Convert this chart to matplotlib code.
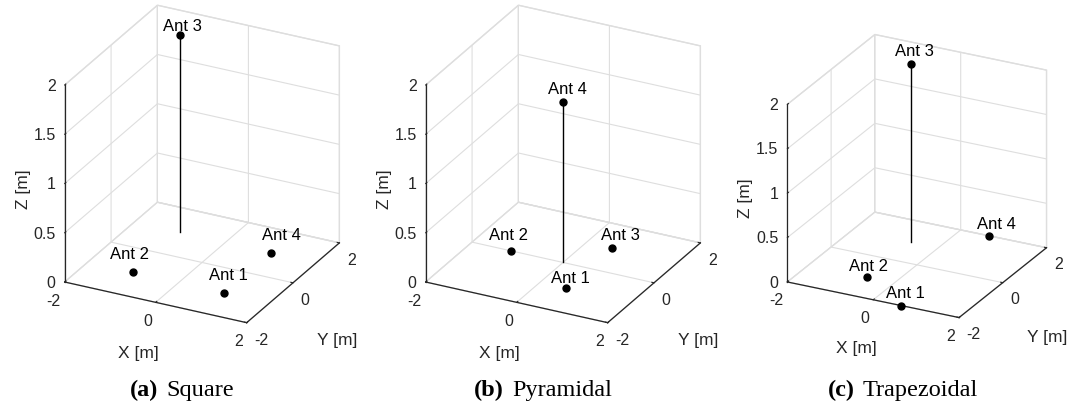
import numpy as np
import matplotlib
matplotlib.use('Agg')
import matplotlib.pyplot as plt
import matplotlib.transforms as mtransforms
from matplotlib.offsetbox import TextArea, HPacker, AnchoredOffsetbox

plt.rcParams['font.family'] = ['Liberation Sans', 'DejaVu Sans']
plt.rcParams['axes.unicode_minus'] = False
plt.rcParams['grid.color'] = '#dedede'
plt.rcParams['grid.linewidth'] = 0.8

# antenna layouts (x, y, z in metres)
ant_names = ['Ant 1', 'Ant 2', 'Ant 3', 'Ant 4']
square_x = [1, -1, -1, 1]
square_y = [-1, -1, 1, 1]
square_z = [0, 0, 2, 0]
pyramid_x = [0.577, -1.155, 0.577, 0]
pyramid_y = [-1, 0, 1, 0]
pyramid_z = [0, 0, 0, 1.633]
trapez_x = [0.65, -0.65, -0.65, 0.65]
trapez_y = [-2, -1, 1, 2]
trapez_z = [0, 0, 2, 0]

xy_ticks = [-2, 0, 2]
z_ticks = [0, 0.5, 1, 1.5, 2]
z_ticklabels = ['0', '0.5', '1', '1.5', '2']
captions = [('(a)', 'Square'), ('(b)', 'Pyramidal'), ('(c)', 'Trapezoidal')]

W, H = 1072, 407
fig = plt.figure(figsize=(W / 100, H / 100), dpi=100)

def px_rect(left, top, size):
    return [left / W, (H - top - size) / H, size / W, size / H]

panels = [
    dict(x=square_x, y=square_y, z=square_z, rect=px_rect(38.5, 9, 318.5),
         elev=26, aspect=(1.1387, 1.1387, 1.2224), cap_x=182,
         offs=[(4, 13), (-4, 13), (3, 4), (11, 13)]),
    dict(x=pyramid_x, y=pyramid_y, z=pyramid_z, rect=px_rect(399.5, 9, 318.5),
         elev=26, aspect=(1.1387, 1.1387, 1.2224), cap_x=543,
         offs=[(4, 5), (-2, 11), (8, 8), (4, 8)]),
    dict(x=trapez_x, y=trapez_y, z=trapez_z, rect=px_rect(762.7, 29.9, 300.4),
         elev=24, aspect=(1.139, 1.139, 1.1496), cap_x=903,
         offs=[(4, 8), (1, 6), (4, 8), (8, 7)]),
]

dark = '#262626'

for p, (tag, name) in zip(panels, captions):
    ax = fig.add_axes(p['rect'], projection='3d')
    ax.set_proj_type('ortho')
    ax.view_init(elev=p['elev'], azim=-63)
    asp = np.array(p['aspect'])
    ax.set_box_aspect(asp, zoom=np.linalg.norm(asp) / 1.8294640721620434)
    ax.patch.set_alpha(0)

    for x, y, z, lab, (dx, dy) in zip(p['x'], p['y'], p['z'], ant_names, p['offs']):
        if z > 0:
            ax.plot([x, x], [y, y], [0, z], color='k', lw=1.0)
        ax.plot([x], [y], [z], 'o', color='k', ms=5)
        t = ax.text(x, y, z, lab, ha='center', va='baseline', fontsize=12)
        t.set_transform(ax.transData + mtransforms.ScaledTranslation(
            dx / 100, dy / 100, fig.dpi_scale_trans))

    ax.set_xlim(-2, 2, view_margin=0)
    ax.set_ylim(-2, 2, view_margin=0)
    ax.set_zlim(0, 2, view_margin=0)
    ax.set_xticks(xy_ticks)
    ax.set_yticks(xy_ticks)
    ax.set_zticks(z_ticks)
    ax.set_zticklabels(z_ticklabels)

    for axis in (ax.xaxis, ax.yaxis, ax.zaxis):
        axis.set_pane_color((1, 1, 1, 1))
        axis.pane.set_edgecolor('#dedede')
        axis.line.set_color(dark)
        axis.line.set_linewidth(0.9)
        axis._axinfo['tick']['inward_factor'] = 0
        axis._axinfo['tick']['outward_factor'] = 0.15
        axis.set_rotate_label(False)
    ax.zaxis.set_ticks_position('lower')
    ax.zaxis.set_label_position('lower')
    ax.tick_params(axis='x', colors=dark, labelsize=11.5, pad=-3)
    ax.tick_params(axis='y', colors=dark, labelsize=11.5, pad=-3)
    ax.tick_params(axis='z', colors=dark, labelsize=11.5, pad=-4)
    for lab in ax.get_xticklabels():
        lab.set_horizontalalignment('right')
    for lab in ax.get_yticklabels():
        lab.set_horizontalalignment('left')
    for lab in ax.get_zticklabels():
        lab.set_horizontalalignment('right')
        lab.set_verticalalignment('center')

    ax.set_xlabel('X [m]', fontsize=12.5, color=dark, labelpad=1)
    ax.set_ylabel('Y [m]', fontsize=12.5, color=dark, labelpad=8)
    ax.set_zlabel('Z [m]', fontsize=12.5, color=dark, labelpad=-3, rotation=90)

    box = HPacker(children=[
        TextArea(tag, textprops=dict(family='Liberation Serif', weight='bold', fontsize=17.5)),
        TextArea(name, textprops=dict(family='Liberation Serif', fontsize=17.5)),
    ], sep=6, align='baseline')
    anchored = AnchoredOffsetbox(loc='center', child=box, frameon=False, pad=0,
                                 bbox_to_anchor=(p['cap_x'] / W, 1 - 390 / H),
                                 bbox_transform=fig.transFigure)
    fig.add_artist(anchored)

fig.savefig('out.png', dpi=100)
